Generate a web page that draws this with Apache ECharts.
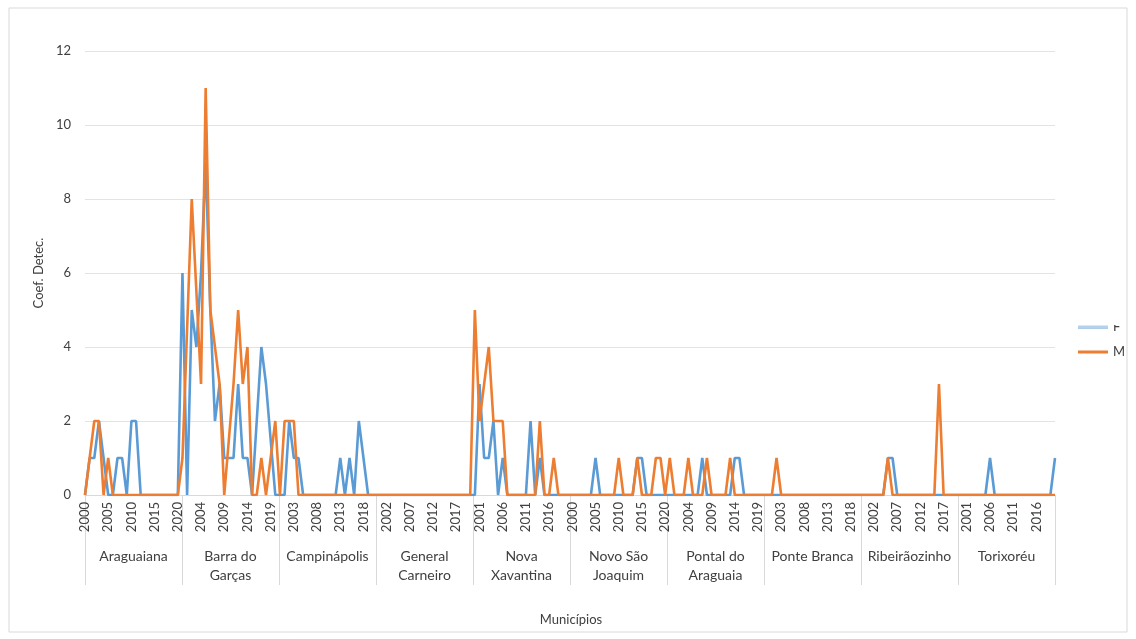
<!DOCTYPE html>
<html>
<head>
<meta charset="utf-8">
<script src="https://cdn.jsdelivr.net/npm/echarts@6/dist/echarts.min.js"></script>
<style>html,body{margin:0;padding:0;background:#fff}#c{width:1136px;height:639px}</style>
</head>
<body>
<div id="c"></div>
<script>
const years = ['2000','2001','2002','2003','2004','2005','2006','2007','2008','2009','2010','2011','2012','2013','2014','2015','2016','2017','2018','2019','2020'];
const municipios = ['Araguaiana','Barra do\nGarças','Campinápolis','General\nCarneiro','Nova\nXavantina','Novo São\nJoaquim','Pontal do\nAraguaia','Ponte Branca','Ribeirãozinho','Torixoréu'];

// Feminino (blue)
const fAraguaiana    = [0,1,1,2,1,0,0,1,1,0,2,2,0,0,0,0,0,0,0,0,0];
const fBarra         = [6,0,5,4,6,9,5,2,3,1,1,1,3,1,1,0,2,4,3,1.5,0];
const fCampinapolis  = [0,0,2,1,1,0,0,0,0,0,0,0,0,1,0,1,0,2,1,0,0];
const fGeneral       = [0,0,0,0,0,0,0,0,0,0,0,0,0,0,0,0,0,0,0,0,0];
const fNova          = [0,3,1,1,2,0,1,0,0,0,0,0,2,0,1,0,0,0,0,0,0];
const fNovoSao       = [0,0,0,0,0,1,0,0,0,0,0,0,0,0,1,1,0,0,0,0,0];
const fPontal        = [0,0,0,0,0,0,0,1,0,0,0,0,0,0,1,1,0,0,0,0,0];
const fPonteBranca   = [0,0,0,0,0,0,0,0,0,0,0,0,0,0,0,0,0,0,0,0,0];
const fRibeirao      = [0,0,0,0,0,1,1,0,0,0,0,0,0,0,0,0,0,0,0,0,0];
const fTorixoreu     = [0,0,0,0,0,0,1,0,0,0,0,0,0,0,0,0,0,0,0,0,1];

// Masculino (orange)
const mAraguaiana    = [0,1,2,2,0,1,0,0,0,0,0,0,0,0,0,0,0,0,0,0,0];
const mBarra         = [1,4.5,8,5.5,3,11,5,4,3,0,1.5,3,5,3,4,0,0,1,0,1,2];
const mCampinapolis  = [0,2,2,2,0,0,0,0,0,0,0,0,0,0,0,0,0,0,0,0,0];
const mGeneral       = [0,0,0,0,0,0,0,0,0,0,0,0,0,0,0,0,0,0,0,0,0];
const mNova          = [5,2,3,4,2,2,2,0,0,0,0,0,0,0,2,0,0,1,0,0,0];
const mNovoSao       = [0,0,0,0,0,0,0,0,0,0,1,0,0,0,1,0,0,0,1,1,0];
const mPontal        = [1,0,0,0,1,0,0,0,1,0,0,0,0,1,0,0,0,0,0,0,0];
const mPonteBranca   = [0,0,1,0,0,0,0,0,0,0,0,0,0,0,0,0,0,0,0,0,0];
const mRibeirao      = [0,0,0,0,0,1,0,0,0,0,0,0,0,0,0,0,3,0,0,0,0];
const mTorixoreu     = [0,0,0,0,0,0,0,0,0,0,0,0,0,0,0,0,0,0,0,0,0];

const fAll = [].concat(fAraguaiana,fBarra,fCampinapolis,fGeneral,fNova,fNovoSao,fPontal,fPonteBranca,fRibeirao,fTorixoreu);
const mAll = [].concat(mAraguaiana,mBarra,mCampinapolis,mGeneral,mNova,mNovoSao,mPontal,mPonteBranca,mRibeirao,mTorixoreu);
const cats = [];
municipios.forEach(function(m){ years.forEach(function(y){ cats.push(m + '|' + y); }); });

const FONT = 'Lato, "Liberation Sans", sans-serif';
const chart = echarts.init(document.getElementById('c'), null, {renderer:'canvas'});
chart.setOption({
  animation: false,
  backgroundColor: '#fff',
  textStyle: {fontFamily: FONT},
  grid: {left: 85, right: 81, top: 51, bottom: 144},
  legend: {
    orient: 'vertical', left: 1073, top: 315, itemWidth: 30, itemHeight: 3, itemGap: 11,
    icon: 'rect',
    data: ['F','M'], textStyle: {fontSize: 13, lineHeight: 14, color: '#404040', fontFamily: FONT}
  },
  xAxis: [{
    type: 'category', data: cats, boundaryGap: false,
    axisLine: {lineStyle: {color: '#d9d9d9'}},
    axisTick: {show: false},
    axisLabel: {interval: 4, rotate: 90, fontSize: 13, color: '#404040', margin: 7,
      formatter: function(v){ return v.split('|')[1]; }}
  },{
    type: 'category', data: municipios, boundaryGap: true, position: 'bottom', offset: 0,
    axisLine: {show: false},
    axisTick: {show: true, length: 90, interval: 0, lineStyle: {color: '#d9d9d9'}},
    axisLabel: {interval: 0, margin: 52, fontSize: 14, lineHeight: 19, color: '#404040'}
  }],
  yAxis: {
    type: 'value', min: 0, max: 12, interval: 2,
    name: 'Coef. Detec.', nameLocation: 'middle', nameGap: 37, nameRotate: 90,
    nameTextStyle: {fontSize: 13, color: '#404040'},
    axisLine: {show: false}, axisTick: {show: false},
    axisLabel: {fontSize: 13, color: '#404040', margin: 14},
    splitLine: {lineStyle: {color: '#e3e3e3'}}
  },
  series: [
    {name: 'F', type: 'line', data: fAll, symbol: 'none', lineStyle: {width: 2.6, color: '#5b9bd5'}, itemStyle: {color: '#5b9bd5'}},
    {name: 'M', type: 'line', data: mAll, symbol: 'none', lineStyle: {width: 2.6, color: '#ed7d31'}, itemStyle: {color: '#ed7d31'}}
  ],
  graphic: [
    {type: 'rect', z: 100, shape: {x: 9, y: 8, width: 1118, height: 624}, style: {fill: 'none', stroke: '#d9d9d9', lineWidth: 1}},
    {type: 'text', z: 100, x: 571, y: 620, style: {text: 'Municípios', font: '13px ' + FONT, fill: '#404040', textAlign: 'center', textVerticalAlign: 'middle'}},
    {type: 'rect', z: 100, shape: {x: 980, y: 300, width: 128, height: 24.5}, style: {fill: '#ffffff'}},
    {type: 'rect', z: 100, shape: {x: 980, y: 324.5, width: 128, height: 3.5}, style: {fill: 'rgba(255,255,255,0.55)'}},
    {type: 'rect', z: 100, shape: {x: 1108, y: 300, width: 18, height: 25}, style: {fill: '#ffffff'}}
  ]
});
</script>
</body>
</html>
